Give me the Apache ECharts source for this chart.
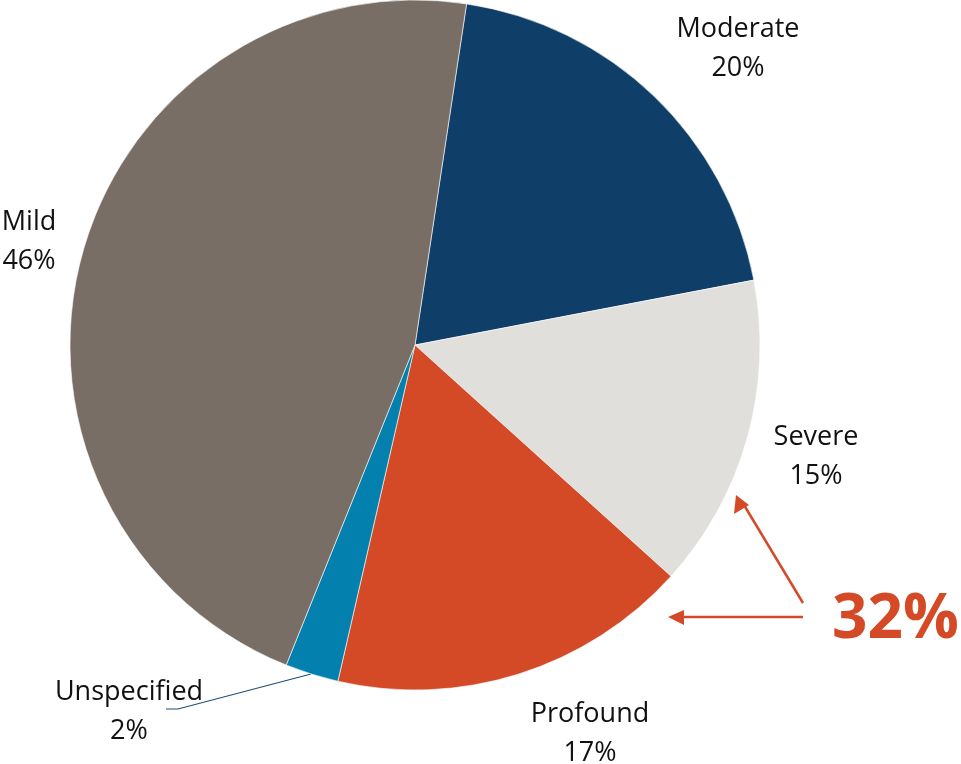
<!DOCTYPE html>
<html>
<head>
<meta charset="utf-8">
<script src="https://cdn.jsdelivr.net/npm/echarts@6/dist/echarts.min.js"></script>
<style>
  html, body { margin: 0; padding: 0; background: #fff; }
  #chart { width: 961px; height: 764px; }
</style>
</head>
<body>
<div id="chart"></div>
<script>
// ----------------------
// DATA
// ----------------------
const categories = ["Moderate", "Severe", "Profound", "Unspecified", "Mild"];
const shares = [19.6, 14.7, 16.9, 2.5, 46.3];
const shownPercents = ["20%", "15%", "17%", "2%", "46%"];
const sliceColors = ["#0f3f69", "#e1dfdb", "#d44a27", "#0480ae", "#786e65"];
const calloutText = "32%";

// label anchor spots (text centre, in px)
const labelSpots = {
  Moderate: [738, 49],
  Severe: [816, 457],
  Profound: [590, 734],
  Unspecified: [129, 712],
  Mild: [29, 242],
};

const chart = echarts.init(document.getElementById("chart"));

const accent = "#d44a27";

chart.setOption({
  animation: false,
  series: [
    {
      type: "pie",
      center: [415, 345],
      radius: 345,
      startAngle: 81.4,
      clockwise: true,
      percentPrecision: 0,
      itemStyle: { borderColor: "#fff", borderWidth: 0.6 },
      label: {
        show: true,
        position: "outside",
        fontFamily: "Open Sans",
        fontSize: 27,
        lineHeight: 39,
        color: "#111",
        align: "center",
        verticalAlign: "middle",
        overflow: "none",
        formatter: (p) => p.name + "\n" + shownPercents[p.dataIndex],
      },
      labelLine: { show: false },
      labelLayout: (params) => {
        const name = categories[params.dataIndex];
        const spot = labelSpots[name];
        const out = { x: spot[0], y: spot[1], align: "center", verticalAlign: "middle" };
        if (name === "Unspecified") {
          out.labelLinePoints = [[311, 674], [178, 709], [166, 709]];
        }
        return out;
      },
      data: categories.map((c, i) => ({
        name: c,
        value: shares[i],
        itemStyle: { color: sliceColors[i] },
        labelLine:
          c === "Unspecified"
            ? { show: true, lineStyle: { color: "#1f4e79", width: 1.2 } }
            : { show: false },
      })),
    },
  ],
  graphic: [
    {
      type: "text",
      left: 832,
      top: 589,
      style: {
        text: calloutText,
        fontFamily: "Open Sans",
        fontWeight: "bold",
        fontSize: 62,
        fill: accent,
      },
    },
    // arrow up-left toward Severe
    {
      type: "line",
      shape: { x1: 803, y1: 603, x2: 744, y2: 505 },
      style: { stroke: accent, lineWidth: 2.5 },
    },
    {
      type: "polygon",
      shape: { points: [[736, 495], [734, 514], [749, 505]] },
      style: { fill: accent },
    },
    // arrow left toward Profound
    {
      type: "line",
      shape: { x1: 803, y1: 617, x2: 680, y2: 617 },
      style: { stroke: accent, lineWidth: 2.5 },
    },
    {
      type: "polygon",
      shape: { points: [[668, 617], [684, 610], [684, 625]] },
      style: { fill: accent },
    },
  ],
});
</script>
</body>
</html>
